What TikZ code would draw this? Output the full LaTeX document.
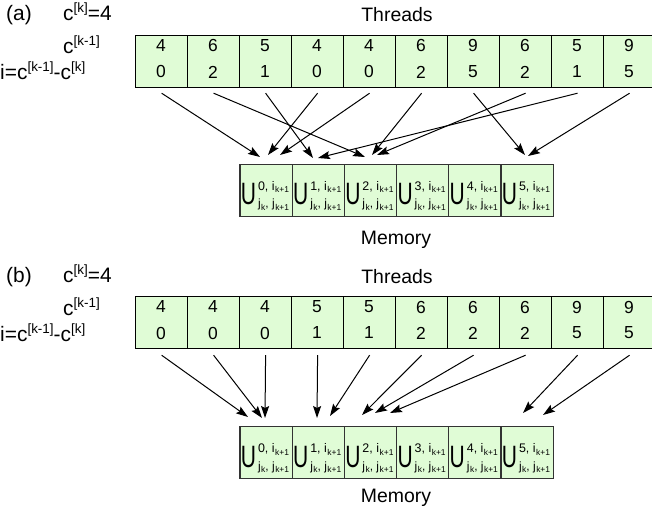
\documentclass[tikz,border=0pt]{standalone}
\usepackage{fontspec}
\setmainfont{Liberation Sans}
\usepackage{graphicx}
\usetikzlibrary{arrows.meta}
\definecolor{cellgreen}{RGB}{224,252,214}
\newcommand{\sups}[1]{\raisebox{8bp}{\fontsize{13.5}{13.5}\selectfont #1}}
\newcommand{\Uent}[1]{%
\scalebox{0.68}[1]{\fontsize{31}{31}\selectfont U}%
\kern2bp%
\rlap{\raisebox{14.5bp}{\fontsize{12.5}{12.5}\selectfont #1, i\kern0.5bp\raisebox{-2.5bp}{\fontsize{8.5}{8.5}\selectfont k+1}}}%
\raisebox{-3bp}{\fontsize{12}{12}\selectfont j\kern0.5bp\raisebox{-2.5bp}{\fontsize{8.5}{8.5}\selectfont k}, j\kern0.5bp\raisebox{-2.5bp}{\fontsize{8.5}{8.5}\selectfont k+1}}}
\begin{document}
\begin{tikzpicture}[x=1bp,y=-1bp,
  tcell/.style={draw=black, line width=1.2bp, fill=cellgreen, minimum width=52bp, minimum height=52bp, inner sep=0pt, anchor=north west},
  mcell/.style={draw=black!80, line width=1.2bp, fill=cellgreen, minimum width=52.2bp, minimum height=51.5bp, inner sep=0pt, anchor=north west},
  dig/.style={font=\fontsize{17.5}{17.5}\selectfont, inner sep=0pt},
  lbl/.style={font=\fontsize{21}{21}\selectfont, inner sep=0pt, anchor=base west},
  ttl/.style={font=\fontsize{19.5}{19.5}\selectfont, inner sep=0pt, anchor=base},
  uent/.style={inner sep=0pt, anchor=base west},
  arr/.style={line width=1bp, -{Stealth[length=12bp,width=8bp,inset=2bp]}}
]
\useasboundingbox (0,0) rectangle (652,512);

% ---------- panel (a) ----------
\node[lbl] (la) at (6,21) {(a)};
\node[lbl] (cka) at (63,21) {c\sups{[k]}=4};
\node[lbl] (ckma) at (63,54) {c\sups{[k-1]}};
\node[lbl] (ia) at (0,80) {i=c\sups{[k-1]}-c\sups{[k]}};
\node[ttl] (thra) at (397,21.5) {Threads};
\foreach \v/\w [count=\i] in {4/0,6/2,5/1,4/0,4/0,6/2,9/5,6/2,5/1,9/5} {
  \node[tcell] (ta\i) at ({135+52*(\i-1)},35) {};
  \node[dig] (tau\i) at ({161+52*(\i-1)},46) {\v};
  \node[dig] (tal\i) at ({161+52*(\i-1)},72) {\w};
}
\foreach \k in {0,...,5} {
  \node[mcell] (ma\k) at ({239.3+52.2*\k},164) {};
  \node[uent] (ua\k) at ({240.7+52.2*\k},205) {\Uent{\k}};
}
\node[ttl] (mema) at (396,245) {Memory};
\foreach \s/\x/\y [count=\n] in {1/260/157, 2/365/157, 3/313/158, 4/268/155, 5/280/155, 6/372/155, 7/525/155, 8/377/155, 9/318/158, 10/528/156} {
  \coordinate (ea\n) at (\x,\y);
  \draw[arr] ([yshift=-5bp]ta\s.south) -- (ea\n);
}

% ---------- panel (b) ----------
\node[lbl] (lb) at (6,282) {(b)};
\node[lbl] (ckb) at (63,282) {c\sups{[k]}=4};
\node[lbl] (ckmb) at (63,315) {c\sups{[k-1]}};
\node[lbl] (ib) at (0,341) {i=c\sups{[k-1]}-c\sups{[k]}};
\node[ttl] (thrb) at (397,283) {Threads};
\foreach \v/\w [count=\i] in {4/0,4/0,4/0,5/1,5/1,6/2,6/2,6/2,9/5,9/5} {
  \node[tcell] (tb\i) at ({135+52*(\i-1)},296) {};
  \node[dig] (tbu\i) at ({161+52*(\i-1)},307) {\v};
  \node[dig] (tbl\i) at ({161+52*(\i-1)},333) {\w};
}
\foreach \k in {0,...,5} {
  \node[mcell] (mb\k) at ({239.3+52.2*\k},426) {};
  \node[uent] (ub\k) at ({240.7+52.2*\k},467) {\Uent{\k}};
}
\node[ttl] (memb) at (396,502) {Memory};
\foreach \s/\x/\y [count=\n] in {1/248/417, 2/262/418, 3/265/418, 4/317/418, 5/330/416, 6/362/415, 7/375/413, 8/390/413, 9/523/413, 10/543/415} {
  \coordinate (eb\n) at (\x,\y);
  \draw[arr] ([yshift=-6bp]tb\s.south) -- (eb\n);
}
\end{tikzpicture}
\end{document}
